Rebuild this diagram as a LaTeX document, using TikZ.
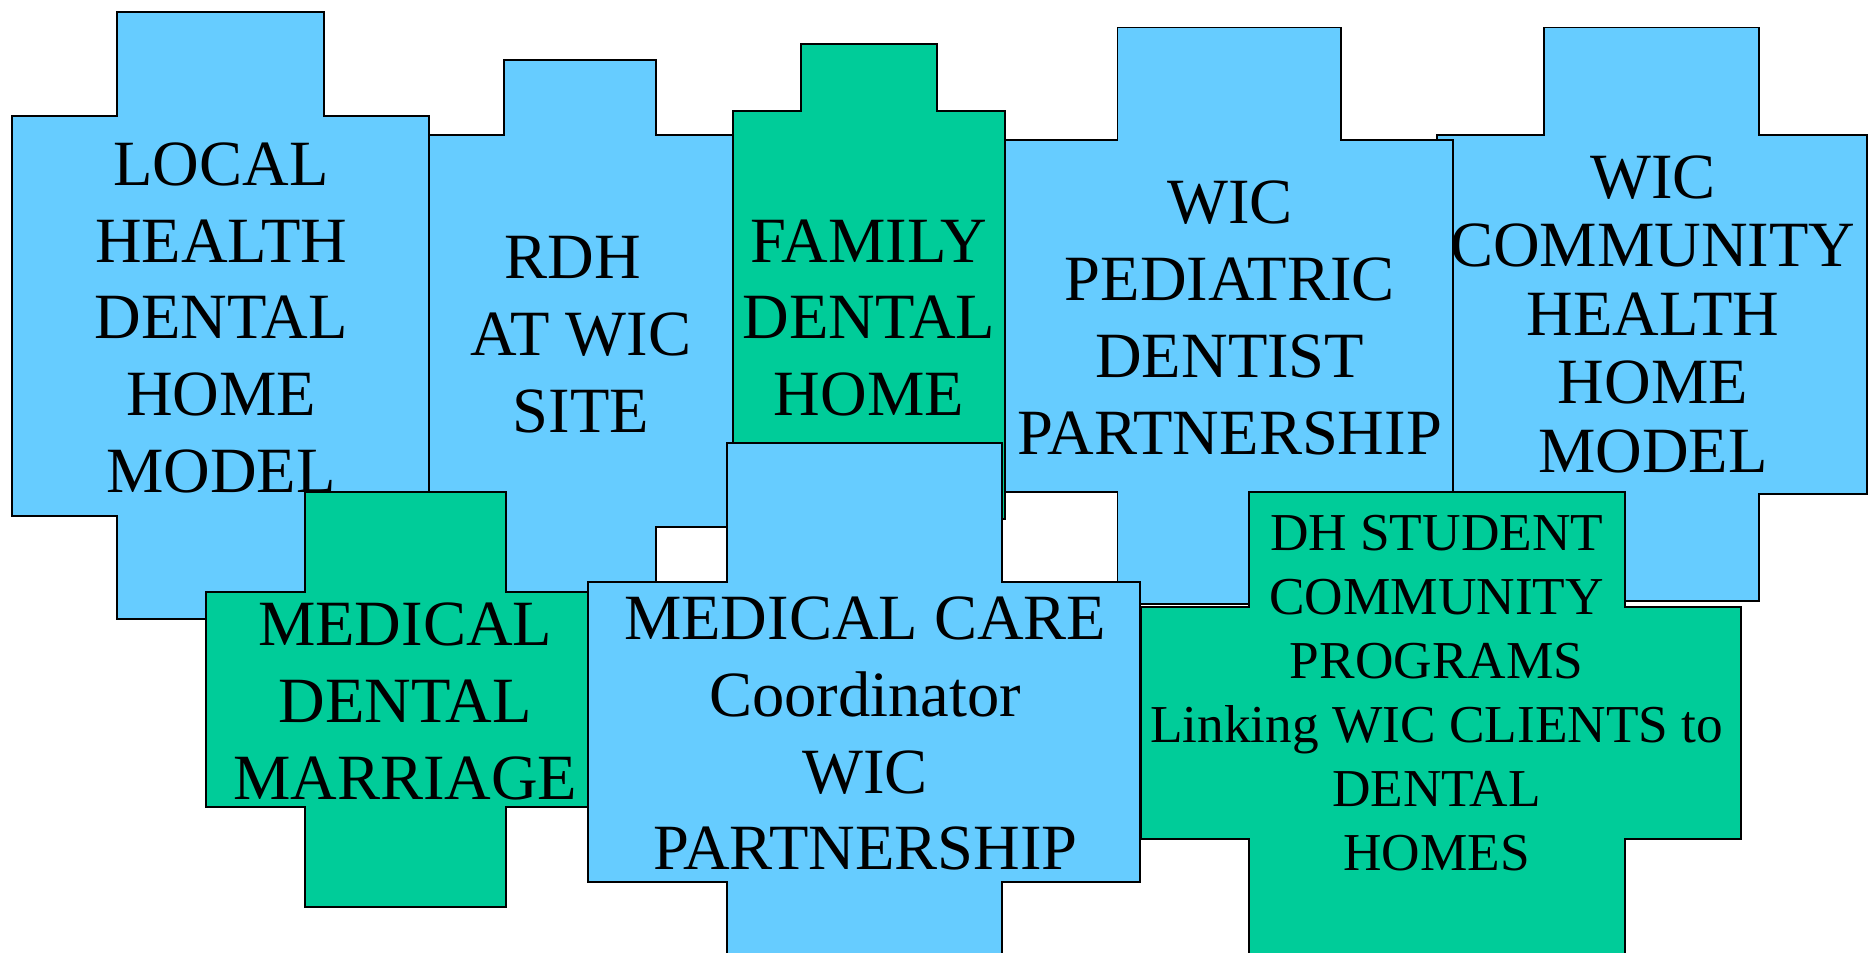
\documentclass[tikz,border=0pt]{standalone}
\usepackage{fontspec}
\setmainfont{Liberation Serif}
\definecolor{crossblue}{HTML}{66CCFF}
\definecolor{crossgreen}{HTML}{00CC99}

\begin{document}
\begin{tikzpicture}[x=0.5pt,y=-0.5pt]
		\tikzstyle{every node}=[align=center, font=\fontsize{27}{32.1}\selectfont]
		\tikzset{bluecross/.style={fill=crossblue, draw=black, line width=0.8pt},
			greencross/.style={fill=crossgreen, draw=black, line width=0.8pt}}
		\useasboundingbox (0,0) rectangle (1568,797);
		% top row
		\filldraw [bluecross] (98,10) -- (271,10) -- (271,97) -- (359,97) -- (359,432) -- (271,432) -- (271,518) -- (98,518) -- (98,432) -- (10,432) -- (10,97) -- (98,97) -- cycle;
		\filldraw [bluecross] (422,50) -- (549,50) -- (549,113) -- (613,113) -- (613,441) -- (549,441) -- (549,503) -- (422,503) -- (422,441) -- (359,441) -- (359,113) -- (422,113) -- cycle;
		\filldraw [greencross] (670,37) -- (784,37) -- (784,93) -- (841,93) -- (841,434) -- (784,434) -- (784,490) -- (670,490) -- (670,434) -- (613,434) -- (613,93) -- (670,93) -- cycle;
		\filldraw [bluecross] (1292,23) -- (1472,23) -- (1472,113) -- (1562,113) -- (1562,413) -- (1472,413) -- (1472,503) -- (1292,503) -- (1292,413) -- (1202,413) -- (1202,113) -- (1292,113) -- cycle;
		\filldraw [bluecross] (935,23) -- (1122,23) -- (1122,117) -- (1216,117) -- (1216,412) -- (1122,412) -- (1122,505) -- (935,505) -- (935,412) -- (841,412) -- (841,117) -- (935,117) -- cycle;
		% bottom row
		\filldraw [greencross] (1045,412) -- (1360,412) -- (1360,508) -- (1457,508) -- (1457,702) -- (1360,702) -- (1360,805) -- (1045,805) -- (1045,702) -- (955,702) -- (955,508) -- (1045,508) -- cycle;
		\filldraw [greencross] (255,412) -- (423,412) -- (423,495) -- (505,495) -- (505,675) -- (423,675) -- (423,759) -- (255,759) -- (255,675) -- (172,675) -- (172,495) -- (255,495) -- cycle;
		\filldraw [bluecross] (608,371) -- (838,371) -- (838,487) -- (954,487) -- (954,738) -- (838,738) -- (838,805) -- (608,805) -- (608,738) -- (492,738) -- (492,487) -- (608,487) -- cycle;
		% labels
		\node (local) at (185,266) {LOCAL\\HEALTH\\DENTAL\\HOME\\MODEL};
		\node (rdh) at (486,280) {RDH\hspace*{0.25em}\\AT WIC\\SITE};
		\node (family) at (727,266) {FAMILY\\DENTAL\\HOME};
		\node (pediatric) at (1029,266) {WIC\\PEDIATRIC\\DENTIST\\PARTNERSHIP};
		\node (community) [font=\fontsize{27}{28.7}\selectfont] at (1383,263) {WIC\\COMMUNITY\\HEALTH\\HOME\\MODEL};
		\node (student) [font=\fontsize{22.3}{26.8}\selectfont] at (1202,580) {DH STUDENT\\COMMUNITY\\PROGRAMS\\Linking WIC CLIENTS to\\DENTAL\\HOMES};
		\node (marriage) at (339,587) {MEDICAL\\DENTAL\\MARRIAGE};
		\node (coordinator) at (724,614) {MEDICAL CARE\\Coordinator\\WIC\\PARTNERSHIP};
	\end{tikzpicture}
\end{document}
